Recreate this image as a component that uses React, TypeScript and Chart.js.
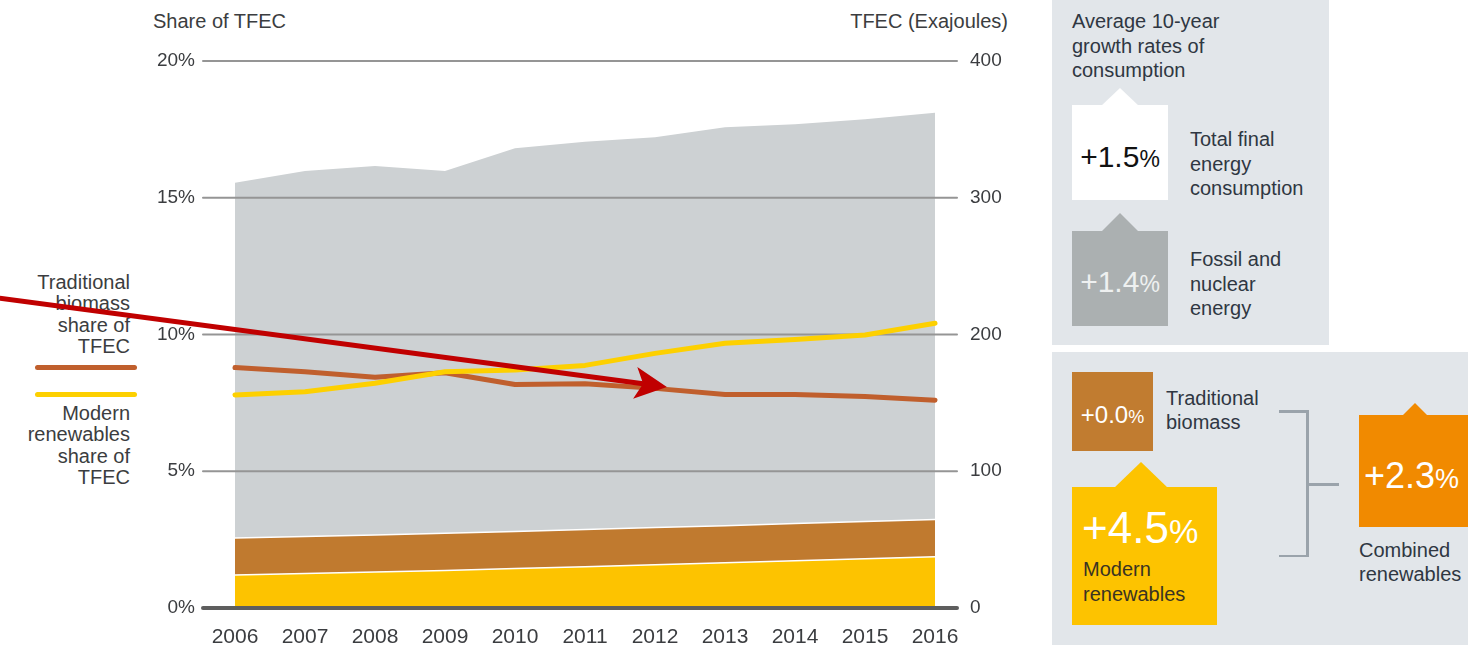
import React, { useEffect, useRef } from "react";
import { Chart, registerables } from "chart.js";

Chart.register(...registerables);

// ---------- data ----------
const YEARS = [2006, 2007, 2008, 2009, 2010, 2011, 2012, 2013, 2014, 2015, 2016];
// Exajoules (right axis, stacked areas)
const MODERN_RENEWABLES_EJ = [24.1, 25.2, 26.3, 27.5, 28.8, 30.2, 31.6, 33.0, 34.5, 36.0, 37.5];
const TRADITIONAL_BIOMASS_EJ = [27.0, 27.0, 27.1, 27.2, 27.1, 27.2, 27.3, 27.2, 27.3, 27.3, 27.3];
const FOSSIL_NUCLEAR_EJ = [259.9, 267.4, 269.8, 264.9, 280.3, 283.6, 285.3, 291.3, 291.9, 294.1, 297.4];
// Share of TFEC (%, left axis)
const TRADITIONAL_SHARE = [8.79, 8.64, 8.44, 8.6, 8.17, 8.2, 8.03, 7.81, 7.81, 7.73, 7.6];
const MODERN_SHARE = [7.79, 7.91, 8.22, 8.64, 8.7, 8.87, 9.31, 9.68, 9.82, 9.98, 10.41];
// axis ticks
const SHARE_TICKS = [0, 5, 10, 15, 20];
const EJ_TICKS = [0, 100, 200, 300, 400];
// annotation arrow (in data units: year, share %)
const ARROW_FROM = { x: 2002.64, y: 11.33 };
const ARROW_TO = { x: 2012.17, y: 8.08 };

const FONT = "'Liberation Sans', Arial, Helvetica, sans-serif";
const TEXT = "#3b3d40";
const PANEL_TEXT = "#2f3742";
const GRAY_AREA = "#cdd1d3";
const BROWN_AREA = "#c07a2f";
const YELLOW_AREA = "#fdc300";
const BROWN_LINE = "#c05f2d";
const YELLOW_LINE = "#fdd000";

const gridPlugin = {
  id: "gridOverAreas",
  afterDatasetDraw(chart: any, args: any) {
    if (args.index !== 0) return;
    const { ctx, chartArea } = chart;
    const ys = chart.scales.y;
    ctx.save();
    SHARE_TICKS.forEach((v) => {
      const y = ys.getPixelForValue(v);
      ctx.beginPath();
      ctx.lineCap = "round";
      if (v === 0) {
        ctx.lineWidth = 4;
        ctx.strokeStyle = "#5e5e5e";
      } else {
        ctx.lineWidth = 2;
        ctx.strokeStyle = "#959595";
      }
      ctx.moveTo(chartArea.left, y);
      ctx.lineTo(chartArea.right, y);
      ctx.stroke();
    });
    ctx.restore();
  },
};

const arrowPlugin = {
  id: "redArrow",
  afterDraw(chart: any) {
    const { ctx } = chart;
    const xs = chart.scales.x;
    const ys = chart.scales.y;
    const x0 = xs.getPixelForValue(ARROW_FROM.x);
    const y0 = ys.getPixelForValue(ARROW_FROM.y);
    const x1 = xs.getPixelForValue(ARROW_TO.x);
    const y1 = ys.getPixelForValue(ARROW_TO.y);
    const dx = x1 - x0;
    const dy = y1 - y0;
    const len = Math.hypot(dx, dy);
    const ux = dx / len;
    const uy = dy / len;
    const px = -uy;
    const py = ux;
    const headLen = 32;
    const half = 16;
    const bx = x1 - ux * headLen;
    const by = y1 - uy * headLen;
    const nx = x1 - ux * 24;
    const ny = y1 - uy * 24;
    ctx.save();
    ctx.strokeStyle = "#c00000";
    ctx.fillStyle = "#c00000";
    ctx.lineWidth = 5;
    ctx.lineCap = "butt";
    ctx.beginPath();
    ctx.moveTo(x0, y0);
    ctx.lineTo(nx, ny);
    ctx.stroke();
    ctx.beginPath();
    ctx.moveTo(x1, y1);
    ctx.lineTo(bx + px * half, by + py * half);
    ctx.lineTo(nx, ny);
    ctx.lineTo(bx - px * half, by - py * half);
    ctx.closePath();
    ctx.fill();
    ctx.restore();
  },
};

function ChartCanvas() {
  const ref = useRef<HTMLCanvasElement | null>(null);
  useEffect(() => {
    if (!ref.current) return;
    const pts = (arr: number[]) => YEARS.map((yr, i) => ({ x: yr, y: arr[i] }));
    const chart = new Chart(ref.current, {
      type: "line",
      data: {
        datasets: [
          {
            label: "Modern renewables (EJ)",
            data: pts(MODERN_RENEWABLES_EJ),
            yAxisID: "y1",
            fill: "origin",
            backgroundColor: YELLOW_AREA,
            borderColor: "#ffffff",
            borderWidth: 1.5,
            pointRadius: 0,
            order: 10,
          },
          {
            label: "Traditional biomass (EJ)",
            data: pts(TRADITIONAL_BIOMASS_EJ),
            yAxisID: "y1",
            fill: "-1",
            backgroundColor: BROWN_AREA,
            borderColor: "#ffffff",
            borderWidth: 1.5,
            pointRadius: 0,
            order: 10,
          },
          {
            label: "Fossil and nuclear (EJ)",
            data: pts(FOSSIL_NUCLEAR_EJ),
            yAxisID: "y1",
            fill: "-1",
            backgroundColor: GRAY_AREA,
            borderColor: GRAY_AREA,
            borderWidth: 0,
            pointRadius: 0,
            order: 10,
          },
          {
            label: "Traditional biomass share of TFEC",
            data: pts(TRADITIONAL_SHARE),
            yAxisID: "y",
            fill: false,
            borderColor: BROWN_LINE,
            borderWidth: 5,
            borderCapStyle: "round",
            borderJoinStyle: "round",
            pointRadius: 0,
            order: 1,
          },
          {
            label: "Modern renewables share of TFEC",
            data: pts(MODERN_SHARE),
            yAxisID: "y",
            fill: false,
            borderColor: YELLOW_LINE,
            borderWidth: 5,
            borderCapStyle: "round",
            borderJoinStyle: "round",
            pointRadius: 0,
            order: 0,
          },
        ] as any,
      },
      options: {
        animation: false,
        responsive: false,
        maintainAspectRatio: false,
        layout: { padding: { top: 61, left: 0, right: 0, bottom: 0 } },
        plugins: { legend: { display: false }, tooltip: { enabled: false } },
        elements: { line: { tension: 0 } },
        scales: {
          x: {
            type: "linear",
            min: 2005.543,
            max: 2016.314,
            afterBuildTicks: (s: any) => {
              s.ticks = YEARS.map((v) => ({ value: v }));
            },
            afterFit: (s: any) => {
              s.height = 40;
            },
            grid: { display: false, drawTicks: false },
            border: { display: false },
            ticks: {
              autoSkip: false,
              maxRotation: 0,
              padding: 17,
              color: TEXT,
              font: { size: 21, family: FONT },
              callback: (v: any) => String(v),
            },
          },
          y: {
            position: "left",
            min: 0,
            max: 20,
            afterBuildTicks: (s: any) => {
              s.ticks = SHARE_TICKS.map((v) => ({ value: v }));
            },
            afterFit: (s: any) => {
              s.width = 203;
            },
            grid: { display: false, drawTicks: false },
            border: { display: false },
            ticks: {
              padding: 8,
              color: TEXT,
              font: { size: 19, family: FONT },
              callback: (v: any) => v + "%",
            },
          },
          y1: {
            position: "right",
            min: 0,
            max: 400,
            stacked: true,
            afterBuildTicks: (s: any) => {
              s.ticks = EJ_TICKS.map((v) => ({ value: v }));
            },
            afterFit: (s: any) => {
              s.width = 83;
            },
            grid: { display: false, drawTicks: false },
            border: { display: false },
            ticks: {
              padding: 13,
              color: TEXT,
              font: { size: 19, family: FONT },
              callback: (v: any) => String(v),
            },
          },
        },
      } as any,
      plugins: [gridPlugin, arrowPlugin],
    });
    return () => chart.destroy();
  }, []);
  return (
    <canvas
      ref={ref}
      width={1040}
      height={648}
      style={{ position: "absolute", left: 0, top: 0, width: 1040, height: 648, zIndex: 2 }}
    />
  );
}

const abs = (s: any) => ({ position: "absolute", ...s } as React.CSSProperties);

function Lines({ left, top, lines, size = 20, lh = 24.5, color = PANEL_TEXT, align = "left", width }: any) {
  return (
    <div
      style={abs({
        left,
        top,
        width,
        fontSize: size,
        lineHeight: lh + "px",
        color,
        textAlign: align,
        whiteSpace: "nowrap",
        fontFamily: FONT,
      })}
    >
      {lines.map((l: string, i: number) => (
        <div key={i}>{l}</div>
      ))}
    </div>
  );
}

function Notch({ cx, tipY, baseY, half, color }: any) {
  return (
    <div
      style={abs({
        left: cx - half,
        top: tipY,
        width: 0,
        height: 0,
        borderLeft: `${half}px solid transparent`,
        borderRight: `${half}px solid transparent`,
        borderBottom: `${baseY - tipY}px solid ${color}`,
      })}
    />
  );
}

function Num({ left, top, width, size, pct, color, text, align = "center" }: any) {
  return (
    <div
      style={abs({
        left,
        top,
        width,
        textAlign: align,
        fontSize: size,
        lineHeight: size + "px",
        color,
        fontFamily: FONT,
        whiteSpace: "nowrap",
      })}
    >
      {text}
      <span style={{ fontSize: pct }}>%</span>
    </div>
  );
}

export default function App() {
  const bracket = "#9aa3ab";
  return (
    <div
      style={abs({
        left: 0,
        top: 0,
        width: 1468,
        height: 648,
        overflow: "hidden",
        background: "#ffffff",
        fontFamily: FONT,
      })}
    >
      {/* axis titles */}
      <div style={abs({ left: 153, top: 9, fontSize: 20, lineHeight: "24px", color: TEXT, zIndex: 1 })}>
        Share of TFEC
      </div>
      <div
        style={abs({ left: 0, width: 1008, top: 9, fontSize: 20, lineHeight: "24px", color: TEXT, textAlign: "right", zIndex: 1 })}
      >
        TFEC (Exajoules)
      </div>

      {/* left legend */}
      <div style={abs({ left: 0, top: 0, zIndex: 1 })}>
        <Lines left={0} width={130} top={272} align="right" size={20} lh={21.3} color={TEXT}
          lines={["Traditional", "biomass", "share of", "TFEC"]} />
        <div style={abs({ left: 35, top: 364.5, width: 102, height: 5, borderRadius: 3, background: BROWN_LINE })} />
        <div style={abs({ left: 35, top: 391.8, width: 102, height: 5, borderRadius: 3, background: YELLOW_LINE })} />
        <Lines left={0} width={130} top={403} align="right" size={20} lh={21.3} color={TEXT}
          lines={["Modern", "renewables", "share of", "TFEC"]} />
      </div>

      <ChartCanvas />

      {/* top panel */}
      <div style={abs({ left: 1052, top: 0, width: 277, height: 345, background: "#e2e6ea" })} />
      <Lines left={1072} top={9} lines={["Average 10-year", "growth rates of", "consumption"]} />
      <Notch cx={1120} tipY={88} baseY={106} half={19} color="#ffffff" />
      <div style={abs({ left: 1072, top: 105, width: 96, height: 95, background: "#ffffff" })} />
      <Num left={1072} top={142} width={96} size={30} pct={23} color="#111111" text="+1.5" />
      <Lines left={1190} top={127} lines={["Total final", "energy", "consumption"]} />
      <Notch cx={1120} tipY={213} baseY={232} half={19} color="#abb0b1" />
      <div style={abs({ left: 1072, top: 231, width: 96, height: 95, background: "#abb0b1" })} />
      <Num left={1072} top={267} width={96} size={30} pct={23} color="#eef0f0" text="+1.4" />
      <Lines left={1190} top={247} lines={["Fossil and", "nuclear", "energy"]} />

      {/* bottom panel */}
      <div style={abs({ left: 1052, top: 352, width: 416, height: 293, background: "#e2e6ea" })} />
      <div style={abs({ left: 1072, top: 372, width: 81, height: 79, background: "#c17c30" })} />
      <Num left={1072} top={403} width={81} size={24} pct={18} color="#ffffff" text="+0.0" />
      <Lines left={1166} top={387} lh={23.5} lines={["Traditional", "biomass"]} />
      <Notch cx={1141} tipY={462} baseY={488} half={27} color={YELLOW_AREA} />
      <div style={abs({ left: 1072, top: 487, width: 145, height: 138, background: YELLOW_AREA })} />
      <Num left={1082} top={506} size={44} pct={33} color="#ffffff" text="+4.5" align="left" />
      <Lines left={1083} top={557} lines={["Modern", "renewables"]} color="#3a3322" />

      <div style={abs({ left: 1279, top: 410, width: 29, height: 2.5, background: bracket })} />
      <div style={abs({ left: 1306, top: 410, width: 2.5, height: 147, background: bracket })} />
      <div style={abs({ left: 1279, top: 554.5, width: 29, height: 2.5, background: bracket })} />
      <div style={abs({ left: 1307, top: 483, width: 32, height: 2.5, background: bracket })} />

      <Notch cx={1415} tipY={403} baseY={416} half={13} color="#f18a00" />
      <div style={abs({ left: 1359, top: 415, width: 109, height: 112, background: "#f18a00" })} />
      <Num left={1364} top={458} size={36} pct={27} color="#ffffff" text="+2.3" align="left" />
      <Lines left={1359} top={539} lh={23.5} lines={["Combined", "renewables"]} />
    </div>
  );
}
